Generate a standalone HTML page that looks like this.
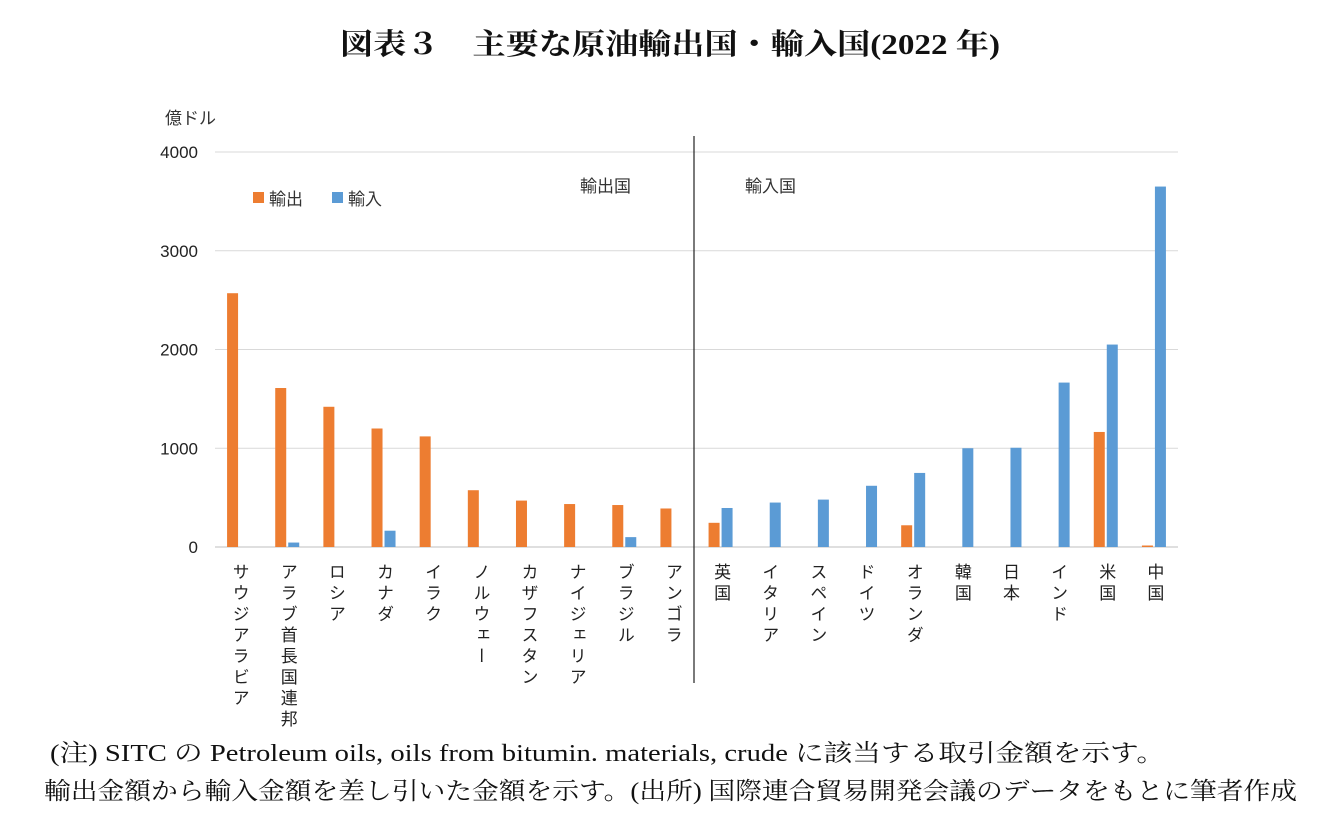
<!DOCTYPE html>
<html><head><meta charset="utf-8">
<style>
body{margin:0;width:1337px;height:836px;background:#fff;overflow:hidden;font-family:"Liberation Sans","Noto Sans CJK JP",sans-serif;}
#title{position:absolute;left:340px;top:22px;font-family:"Liberation Serif","Noto Serif CJK SC",serif;font-weight:bold;font-size:29px;color:#111;white-space:nowrap;transform-origin:0 0;}
.note{position:absolute;font-family:"Liberation Serif","Noto Serif CJK SC",serif;font-size:24px;color:#111;white-space:nowrap;transform-origin:0 0;}
</style></head><body>
<div id="title" data-tw="660">図表３　主要な原油輸出国・輸入国(2022 年)</div>
<svg id="chart" width="1337" height="836" style="position:absolute;left:0;top:0"></svg>
<div class="note" data-tw="1115" style="left:50px;top:733px">(注) SITC の Petroleum oils, oils from bitumin. materials, crude に該当する取引金額を示す。</div>
<div class="note" data-tw="1253" style="left:44px;top:771px">輸出金額から輸入金額を差し引いた金額を示す。(出所) 国際連合貿易開発会議のデータをもとに筆者作成</div>
<script>
const categories=["サウジアラビア","アラブ首長国連邦","ロシア","カナダ","イラク","ノルウェー","カザフスタン","ナイジェリア","ブラジル","アンゴラ","英国","イタリア","スペイン","ドイツ","オランダ","韓国","日本","インド","米国","中国"];
const exportVals=[2570,1610,1420,1200,1120,575,470,435,425,390,245,0,0,0,220,0,0,0,1165,15];
const importVals=[0,45,0,165,0,0,0,0,100,0,395,450,480,620,750,1000,1005,1665,2050,3650];
const yTicks=[0,1000,2000,3000,4000];
document.querySelectorAll('[data-tw]').forEach(el=>{const w=el.getBoundingClientRect().width;el.style.transform='scaleX('+(+el.dataset.tw/w)+')';});
const NS="http://www.w3.org/2000/svg";
const svg=document.getElementById('chart');
const x0=215,x1=1178,y0=547,y4=152;
const yS=v=>y0-(v/4000)*(y0-y4);
const band=(x1-x0)/categories.length;
const xS=i=>x0+band*i+band/2;
function mk(t,a){const e=document.createElementNS(NS,t);for(const k in a)e.setAttribute(k,a[k]);svg.appendChild(e);return e;}
yTicks.forEach(v=>{
 const l=mk('line',{x1:x0,x2:x1,y1:yS(v),y2:yS(v),stroke:v===0?'#bfbfbf':'#d9d9d9','stroke-width':1});
 
 
 const t=mk('text',{x:198,y:yS(v)+6,'text-anchor':'end','font-size':17,fill:'#222'});
 t.textContent=v;
 
 
});
const u=mk('text',{x:165,y:124,'font-size':17,fill:'#333'});u.textContent='億ドル';


const bw=11;
categories.forEach((c,i)=>{
 const cx=xS(i);
 if(exportVals[i]>0){const r=mk('rect',{x:cx-bw-1,y:yS(exportVals[i]),width:bw,height:y0-yS(exportVals[i]),fill:'#ED7D31'});
 
 }
 if(importVals[i]>0){const r=mk('rect',{x:cx+1,y:yS(importVals[i]),width:bw,height:y0-yS(importVals[i]),fill:'#5B9BD5'});
 
 }
 const t=mk('text',{x:cx,y:563,'font-size':17,fill:'#222','letter-spacing':4});
 t.style.writingMode='vertical-rl';
 t.textContent=c;
 
 
});
const d=mk('line',{x1:694,x2:694,y1:136,y2:683,stroke:'#222','stroke-width':1.2});


[['輸出国',580,'section-label-export'],['輸入国',745,'section-label-import']].forEach(s=>{
 const t=mk('text',{x:s[1],y:192,'font-size':17,fill:'#333'});t.textContent=s[0];
 
 
});
[['輸出','#ED7D31',253,'legend-export'],['輸入','#5B9BD5',332,'legend-import']].forEach(s=>{
 const r=mk('rect',{x:s[2],y:192,width:11,height:11,fill:s[1]});
 
 
 const t=mk('text',{x:s[2]+16,y:205,'font-size':17,fill:'#333'});t.textContent=s[0];
 
 
});
</script>
</body></html>
